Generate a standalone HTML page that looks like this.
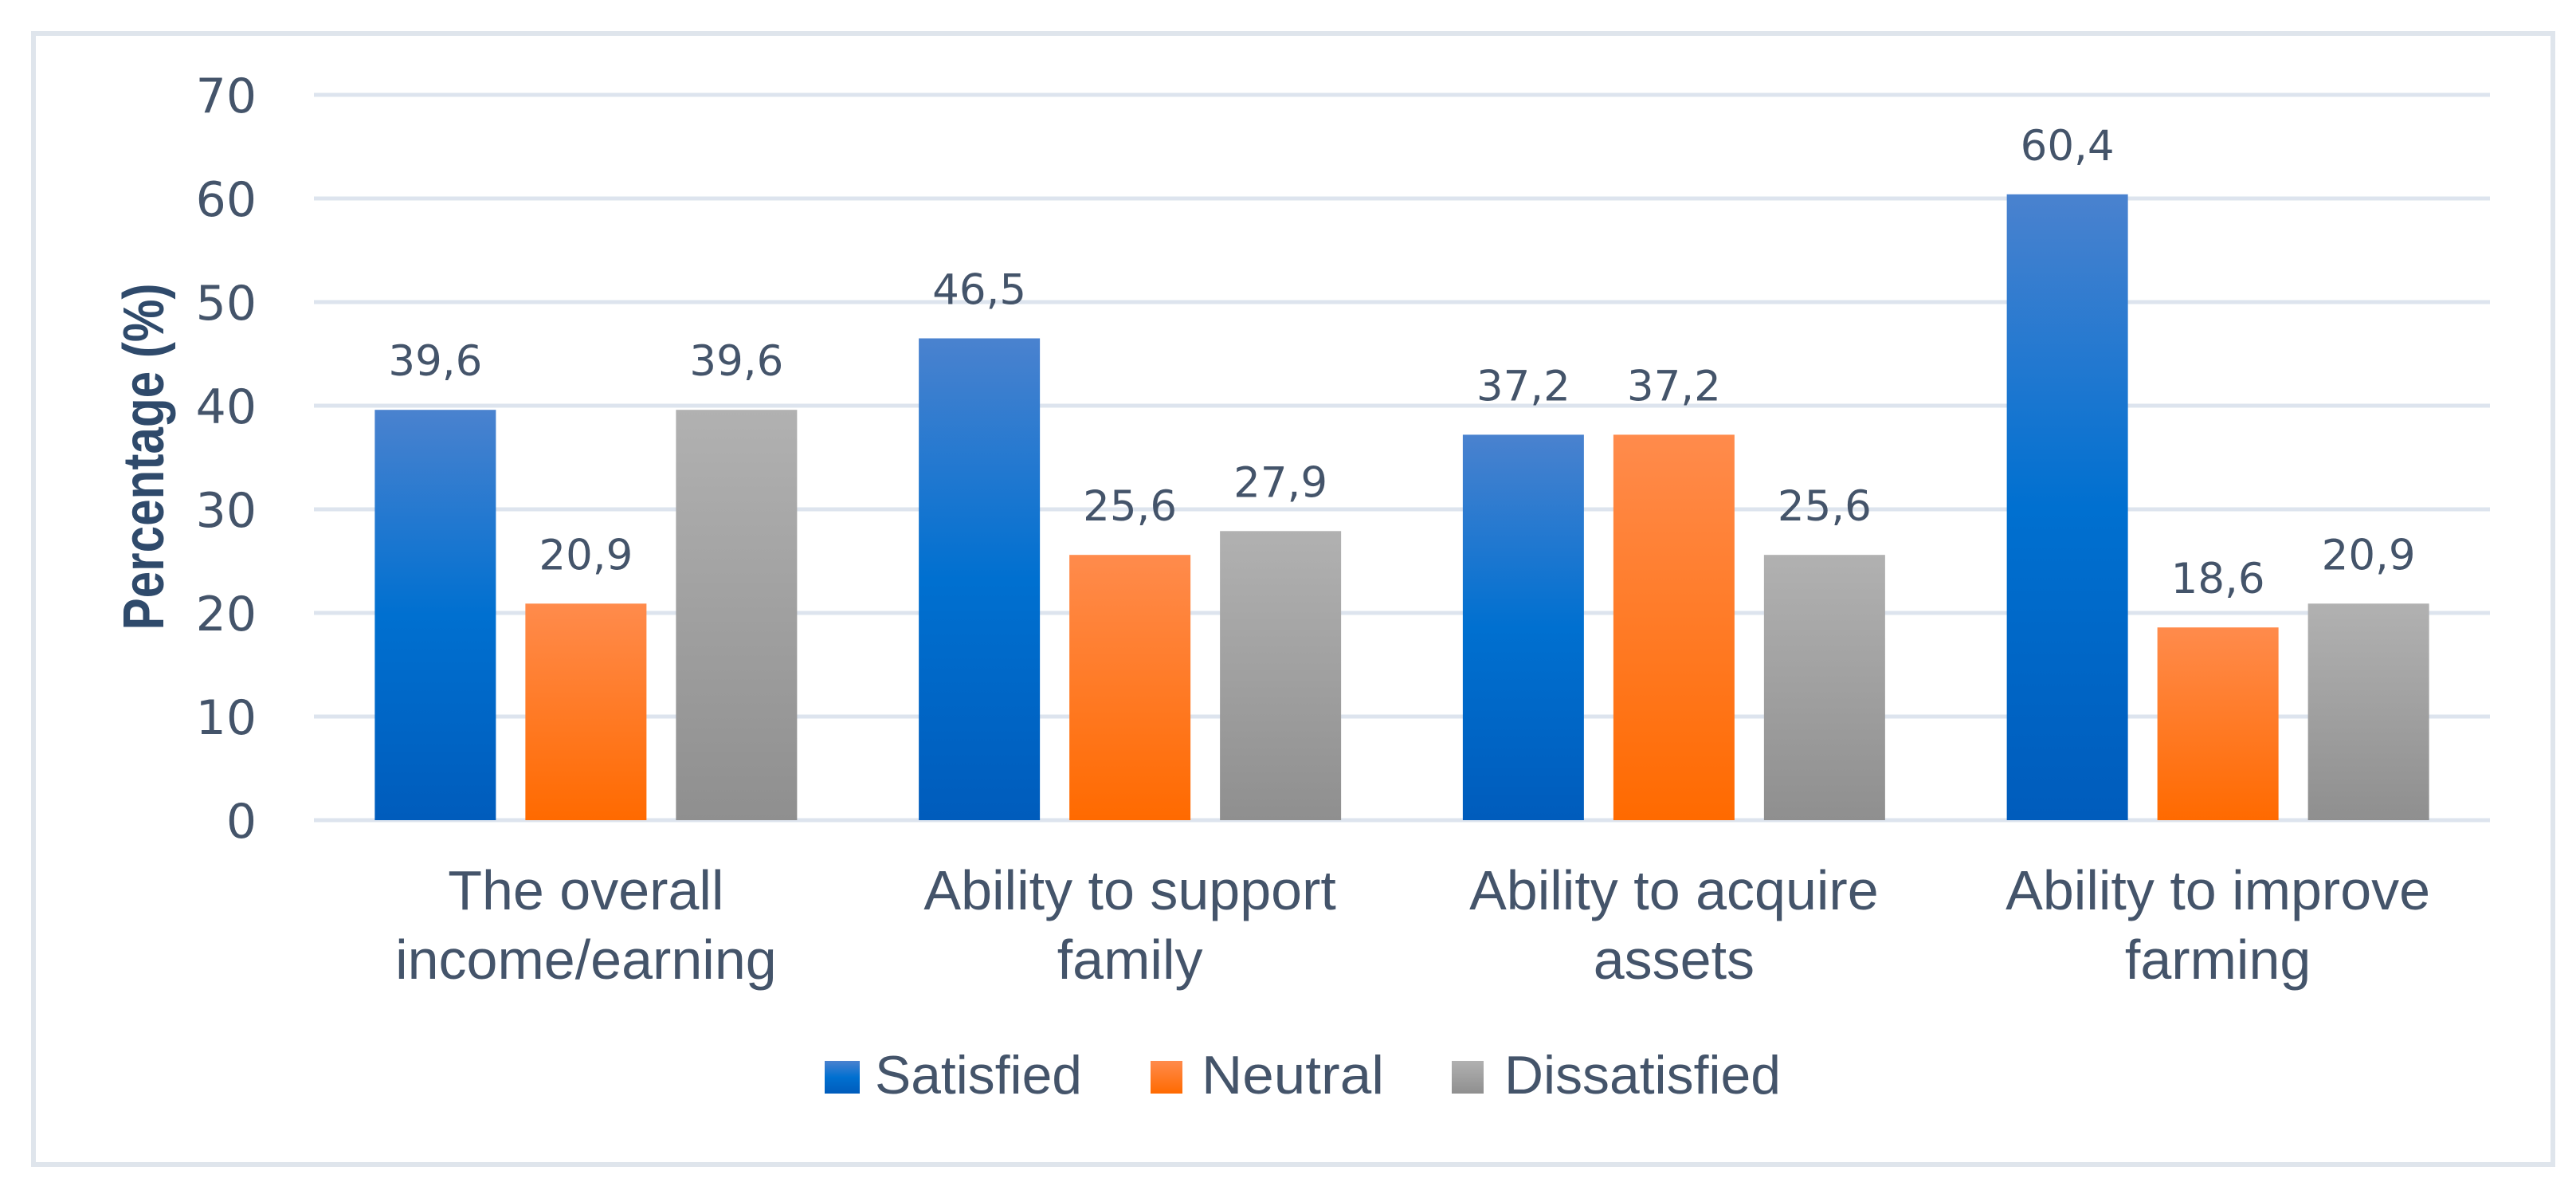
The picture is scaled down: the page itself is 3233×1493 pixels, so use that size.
<!DOCTYPE html>
<html><head><meta charset="utf-8"><style>html,body{margin:0;padding:0;background:#fff}svg{display:block}</style></head>
<body>
<svg id="chart" width="3233" height="1493" viewBox="0 0 3233 1493" xmlns="http://www.w3.org/2000/svg">
<defs>
<linearGradient id="gBlue" x1="0" y1="0" x2="0" y2="1"><stop offset="0" stop-color="#4a82cf"/><stop offset="0.5" stop-color="#0070d0"/><stop offset="1" stop-color="#005cbc"/></linearGradient>
<linearGradient id="gOrange" x1="0" y1="0" x2="0" y2="1"><stop offset="0" stop-color="#ff8b4c"/><stop offset="1" stop-color="#ff6a00"/></linearGradient>
<linearGradient id="gGray" x1="0" y1="0" x2="0" y2="1"><stop offset="0" stop-color="#b1b1b1"/><stop offset="1" stop-color="#8f8f8f"/></linearGradient>
</defs>
<rect x="42" y="42" width="3162" height="1419" fill="#fff" stroke="#dfe5ec" stroke-width="6"/>
<g id="grid"></g>
<g id="bars"></g>
<g id="labels"></g>
<text transform="translate(205,573) rotate(-90)" text-anchor="middle" font-family="Liberation Sans, sans-serif" font-weight="bold" font-size="72" fill="#2f4a6b" textLength="435" lengthAdjust="spacingAndGlyphs">Percentage (%)</text>
<g>
<rect x="1035" y="1331" width="44" height="41" fill="url(#gBlue)"/>
<text x="1098" y="1372" font-family="Liberation Sans, sans-serif" font-size="68" fill="#44546a" textLength="260" lengthAdjust="spacingAndGlyphs">Satisfied</text>
<rect x="1444" y="1331" width="40" height="41" fill="url(#gOrange)"/>
<text x="1508" y="1372" font-family="Liberation Sans, sans-serif" font-size="68" fill="#44546a" textLength="229" lengthAdjust="spacingAndGlyphs">Neutral</text>
<rect x="1822" y="1331" width="40" height="41" fill="url(#gGray)"/>
<text x="1888" y="1372" font-family="Liberation Sans, sans-serif" font-size="68" fill="#44546a" textLength="347" lengthAdjust="spacingAndGlyphs">Dissatisfied</text>
</g>
</svg>
<script>
const categoriesLine1 = ["The overall", "Ability to support", "Ability to acquire", "Ability to improve"];
const categoriesLine2 = ["income/earning", "family", "assets", "farming"];
const seriesNames = ["Satisfied", "Neutral", "Dissatisfied"];
const satisfied = [39.6, 46.5, 37.2, 60.4];
const neutral = [20.9, 25.6, 37.2, 18.6];
const dissatisfied = [39.6, 27.9, 25.6, 20.9];
const yTicks = [0, 10, 20, 30, 40, 50, 60, 70];

const NS = "http://www.w3.org/2000/svg";
const plotL = 394, plotR = 3125, y0 = 1029, yTop = 119, yMax = 70;
const yScale = v => y0 - (v / yMax) * (y0 - yTop);
const catW = (plotR - plotL) / categoriesLine1.length;
const barW = 152, step = 189;
const xBar = (ci, si) => plotL + catW * ci + catW / 2 + (si - 1) * step - barW / 2;
const fills = ["url(#gBlue)", "url(#gOrange)", "url(#gGray)"];
const series = [satisfied, neutral, dissatisfied];
const fmt = v => v.toFixed(1).replace(".", ",");
function mk(tag, attrs, parent, text) {
  const e = document.createElementNS(NS, tag);
  for (const k in attrs) e.setAttribute(k, attrs[k]);
  if (text !== undefined) e.textContent = text;
  parent.appendChild(e);
  return e;
}
const grid = document.getElementById("grid");
const bars = document.getElementById("bars");
const labels = document.getElementById("labels");
yTicks.forEach(t => {
  const y = yScale(t);
  const l = mk("line", {x1: plotL, x2: plotR, y1: y, y2: y, stroke: "#dde4ee", "stroke-width": 5}, grid);
  
  
  const tx = mk("text", {x: 322, y: y + 22, "text-anchor": "end", "font-family": "DejaVu Sans, sans-serif", "font-size": 60, fill: "#44546a"}, grid, String(t));
  
  
});
series.forEach((vals, si) => {
  vals.forEach((v, ci) => {
    const x = xBar(ci, si), y = yScale(v);
    const r = mk("rect", {x: x, y: y, width: barW, height: y0 - y, fill: fills[si]}, bars);
    
    
    const t = mk("text", {x: x + barW / 2, y: y - 43, "text-anchor": "middle", "font-family": "DejaVu Sans, sans-serif", "font-size": 53, fill: "#44546a"}, labels, fmt(v));
    
    
  });
});
categoriesLine1.forEach((c, ci) => {
  const cx = plotL + catW * ci + catW / 2;
  const t1 = mk("text", {x: cx, y: 1141, "text-anchor": "middle", "font-family": "Liberation Sans, sans-serif", "font-size": 70, fill: "#44546a"}, labels, c);
  
  
  const t2 = mk("text", {x: cx, y: 1228, "text-anchor": "middle", "font-family": "Liberation Sans, sans-serif", "font-size": 70, fill: "#44546a"}, labels, categoriesLine2[ci]);
  
  
});
</script>
</body></html>
